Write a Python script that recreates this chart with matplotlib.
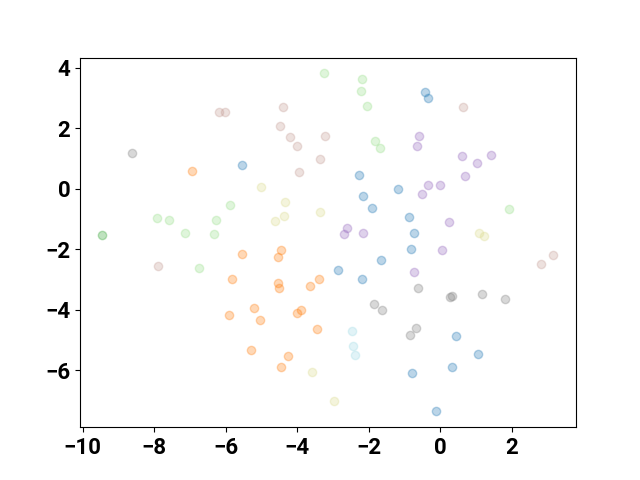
import numpy as np
import matplotlib
matplotlib.use('Agg')
import matplotlib.pyplot as plt

plt.rcParams['font.family'] = ['Roboto', 'DejaVu Sans']
plt.rcParams['font.weight'] = 'bold'
plt.rcParams['font.size'] = 16

# cluster points
blue_x = [-5.55, -0.44, -0.35, -2.28, -2.17, -1.92, -1.17, -0.89, -0.75, -0.83,
          -1.66, -2.86, -2.19, 0.45, 1.05, 0.32, -0.80, -0.12]
blue_y = [0.79, 3.21, 3.01, 0.46, -0.23, -0.63, 0.0, -0.93, -1.45, -2.0,
          -2.35, -2.68, -2.98, -4.87, -5.46, -5.88, -6.09, -7.33]

orange_x = [-6.94, -4.46, -5.55, -4.53, -5.81, -4.54, -4.52, -3.64, -3.39, -5.22,
            -5.92, -5.03, -3.90, -4.02, -3.45, -5.30, -4.25, -4.46]
orange_y = [0.57, -2.02, -2.17, -2.27, -2.99, -3.10, -3.27, -3.23, -2.98, -3.94,
            -4.16, -4.35, -4.00, -4.12, -4.64, -5.34, -5.54, -5.90]

dkgreen_x = [-9.45]
dkgreen_y = [-1.52]

green_x = [-7.92, -7.59, -7.14, -6.33, -6.26, -5.89, -6.75, -3.26,
           -2.19, -2.22, -2.04, -1.83, -1.68, 1.92]
green_y = [-0.96, -1.03, -1.45, -1.50, -1.03, -0.55, -2.62, 3.81,
           3.62, 3.22, 2.74, 1.57, 1.33, -0.68]

purple_x = [-0.59, -0.66, 0.60, 1.02, 1.41, 0.70, -0.35, 0.0, -0.52, 0.23,
            -2.61, -2.70, -2.17, 0.04, -0.73]
purple_y = [1.73, 1.42, 1.08, 0.84, 1.11, 0.41, 0.12, 0.13, -0.19, -1.10,
            -1.31, -1.49, -1.48, -2.04, -2.74]

brown_x = [-6.18, -6.02, -4.39, -4.47, -4.21, -4.01, -3.95, -3.35, -3.21, 0.64,
           -7.88, 2.80, 3.15]
brown_y = [2.52, 2.54, 2.70, 2.06, 1.70, 1.41, 0.56, 0.98, 1.73, 2.69,
           -2.54, -2.48, -2.19]

gray_x = [-8.63, -0.63, 0.26, 0.33, 1.15, 1.80, -1.86, -1.64, -0.69, -0.84]
gray_y = [1.17, -3.29, -3.57, -3.53, -3.47, -3.65, -3.80, -4.02, -4.60, -4.85]

olive_x = [-5.01, -4.34, -4.37, -4.62, -3.35, 1.08, 1.22, -3.59, -2.97]
olive_y = [0.07, -0.45, -0.90, -1.08, -0.77, -1.45, -1.58, -6.04, -7.03]

cyan_x = [-2.48, -2.44, -2.39]
cyan_y = [-4.69, -5.20, -5.49]

groups = [(blue_x, blue_y, '#1f77b4'), (orange_x, orange_y, '#ff7f0e'),
          (dkgreen_x, dkgreen_y, '#2ca02c'), (green_x, green_y, '#98df8a'),
          (purple_x, purple_y, '#9467bd'), (brown_x, brown_y, '#c49c94'),
          (gray_x, gray_y, '#7f7f7f'), (olive_x, olive_y, '#dbdb8d'),
          (cyan_x, cyan_y, '#9edae5')]

fig, ax = plt.subplots(figsize=(6.4, 4.8), dpi=100)
for gx, gy, c in groups:
    ax.scatter(gx, gy, color=c, alpha=0.3)

ax.set_xlim(-10.07, 3.79)
ax.set_ylim(-7.88, 4.33)
ax.set_xticks([-10, -8, -6, -4, -2, 0, 2])
ax.set_yticks([-6, -4, -2, 0, 2, 4])
plt.savefig('out.png')
